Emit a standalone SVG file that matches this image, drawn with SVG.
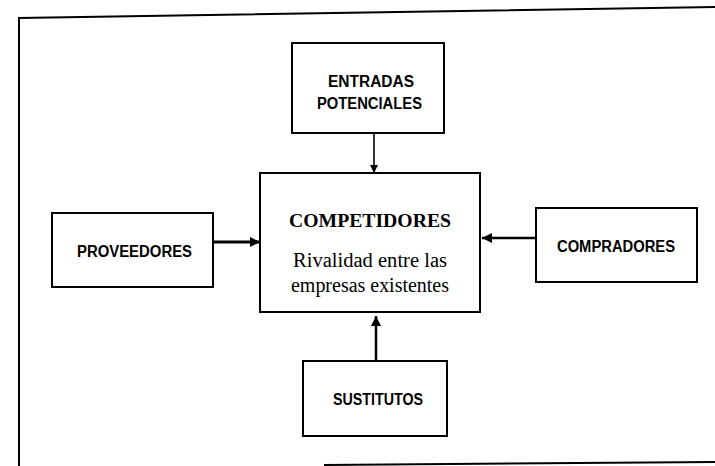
<svg xmlns="http://www.w3.org/2000/svg" width="715" height="466" viewBox="0 0 715 466">
  <style>
    .box { fill: #ffffff; stroke: #000000; stroke-width: 2; }
    .frame { fill: none; stroke: #000000; stroke-width: 2; }
    .lbl { font-family: "Liberation Sans", Arial, sans-serif; font-weight: bold; font-size: 16px; fill: #000000; text-anchor: middle; }
    .title { font-family: "Liberation Serif", "Times New Roman", serif; font-weight: bold; font-size: 19px; fill: #000000; text-anchor: middle; }
    .sub { font-family: "Liberation Serif", "Times New Roman", serif; font-size: 20px; fill: #000000; text-anchor: middle; }
    .conn { fill: none; stroke: #000000; }
  </style>
  <defs>
    <marker id="ah" viewBox="0 0 10 10" refX="10" refY="5" markerWidth="12" markerHeight="10" markerUnits="userSpaceOnUse" orient="auto">
      <path d="M0,0 L10,5 L0,10 Z" fill="#000000"/>
    </marker>
    <marker id="ahs" viewBox="0 0 10 10" refX="10" refY="5" markerWidth="9" markerHeight="8" markerUnits="userSpaceOnUse" orient="auto">
      <path d="M0,0 L10,5 L0,10 Z" fill="#000000"/>
    </marker>
  </defs>
  <rect width="715" height="466" fill="#ffffff"/>
  <g id="frame">
    <path class="frame" d="M715,7 L19,18 L19,466"/>
    <path class="frame" d="M324,465 L715,462"/>
  </g>
  <g id="connectors">
    <line class="conn" x1="374" y1="133" x2="374" y2="173" stroke-width="1.6" marker-end="url(#ahs)"/>
    <line class="conn" x1="213" y1="242" x2="260" y2="242" stroke-width="3" marker-end="url(#ah)"/>
    <line class="conn" x1="536" y1="238" x2="482" y2="238" stroke-width="2.5" marker-end="url(#ah)"/>
    <line class="conn" x1="376" y1="361" x2="376" y2="316" stroke-width="2.5" marker-end="url(#ah)"/>
  </g>
  <g id="entradas">
    <rect class="box" x="292" y="43" width="152" height="90"/>
    <text class="lbl" x="371" y="87" textLength="86" lengthAdjust="spacingAndGlyphs">ENTRADAS</text>
    <text class="lbl" x="369.5" y="109" textLength="105" lengthAdjust="spacingAndGlyphs">POTENCIALES</text>
  </g>
  <g id="competidores">
    <rect class="box" x="260" y="173" width="220" height="139"/>
    <text class="title" x="370" y="227" textLength="162" lengthAdjust="spacingAndGlyphs">COMPETIDORES</text>
    <text class="sub" x="370" y="267" textLength="154" lengthAdjust="spacingAndGlyphs">Rivalidad entre las</text>
    <text class="sub" x="370" y="292" textLength="158" lengthAdjust="spacingAndGlyphs">empresas existentes</text>
  </g>
  <g id="proveedores">
    <rect class="box" x="52" y="213" width="161" height="74"/>
    <text class="lbl" x="134.5" y="257" textLength="115" lengthAdjust="spacingAndGlyphs">PROVEEDORES</text>
  </g>
  <g id="compradores">
    <rect class="box" x="536" y="208" width="161" height="74"/>
    <text class="lbl" x="616" y="252" textLength="118" lengthAdjust="spacingAndGlyphs">COMPRADORES</text>
  </g>
  <g id="sustitutos">
    <rect class="box" x="303" y="361" width="144" height="75"/>
    <text class="lbl" x="378" y="405" textLength="90" lengthAdjust="spacingAndGlyphs">SUSTITUTOS</text>
  </g>
</svg>
